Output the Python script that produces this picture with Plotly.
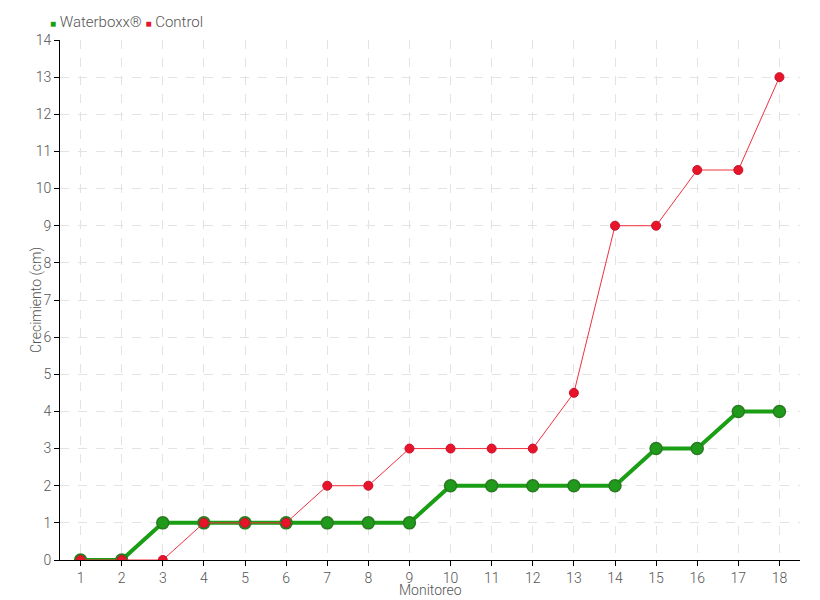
import plotly.graph_objects as go

monitoreo = list(range(1, 19))
waterboxx = [0, 0, 1, 1, 1, 1, 1, 1, 1, 2, 2, 2, 2, 2, 3, 3, 4, 4]
control = [0, 0, 0, 1, 1, 1, 2, 2, 3, 3, 3, 3, 4.5, 9, 9, 10.5, 10.5, 13]
y_ticks = list(range(0, 15))
series_names = ["Waterboxx®", "Control"]
x_title = "Monitoreo"
y_title = "Crecimiento (cm)"

FONT = "Roboto, sans-serif"
GREEN = "#1a9e14"
RED = "#e8142a"
TXT = "#555"

fig = go.Figure()
fig.add_trace(go.Scatter(
    x=monitoreo, y=waterboxx, name=series_names[0], mode="lines+markers",
    line=dict(color=GREEN, width=4), showlegend=False,
    marker=dict(size=12, color="#1f9a1a", line=dict(color="#2a7a22", width=1.5)),
))
fig.add_trace(go.Scatter(
    x=monitoreo, y=control, name=series_names[1], mode="lines+markers",
    line=dict(color="#f0303f", width=1), showlegend=False,
    marker=dict(size=9, color=RED, line=dict(color="#c8102a", width=1)),
))

L, R, T, B = 52, 28, 32, 48
W, H = 820, 600
pw, ph = W - L - R, H - T - B

legend_text = (f"<span style='color:{GREEN}; font-size:10px'>■</span> {series_names[0]} "
               f"<span style='color:{RED}; font-size:10px'>■</span> {series_names[1]}")
fig.add_annotation(
    text=legend_text, xref="paper", yref="paper",
    x=(40 - L) / pw, y=1 + (T - 14) / ph, xanchor="left", yanchor="middle",
    showarrow=False, font=dict(size=15, color=TXT, family=FONT, weight=300),
)
fig.add_annotation(
    text=x_title, xref="paper", yref="paper",
    x=0.5, y=-(582 - (T + ph)) / ph, xanchor="center", yanchor="middle",
    showarrow=False, borderpad=0,
    font=dict(size=14, color=TXT, family=FONT, weight=300),
)
fig.add_annotation(
    text=y_title, xref="paper", yref="paper", textangle=-90,
    x=(28 - L) / pw, y=0.5, xanchor="center", yanchor="middle",
    showarrow=False, borderpad=0,
    font=dict(size=14, color=TXT, family=FONT, weight=300),
)

fig.update_layout(
    width=W, height=H,
    margin=dict(l=L, r=R, t=T, b=B, autoexpand=False),
    plot_bgcolor="white", paper_bgcolor="white",
    font=dict(family=FONT, size=14, color=TXT, weight=300),
    showlegend=False,
)

fig.update_xaxes(
    range=[0.5, 18.5], tickmode="array", tickvals=monitoreo,
    ticktext=[str(v) for v in monitoreo],
    showgrid=True, gridcolor="#e3e3e3", griddash="dash", gridwidth=1,
    showline=True, linecolor="black", linewidth=1,
    ticks="outside", ticklen=5, tickcolor="black",
    zeroline=False,
    tickfont=dict(size=14, color=TXT),
)
fig.update_yaxes(
    range=[0, 14], tickmode="array", tickvals=y_ticks,
    showgrid=True, gridcolor="#e3e3e3", griddash="dash", gridwidth=1,
    showline=True, linecolor="black", linewidth=1,
    ticks="outside", ticklen=5, tickcolor="black",
    zeroline=False,
    tickfont=dict(size=14, color=TXT),
)

fig.write_html("out.html")
